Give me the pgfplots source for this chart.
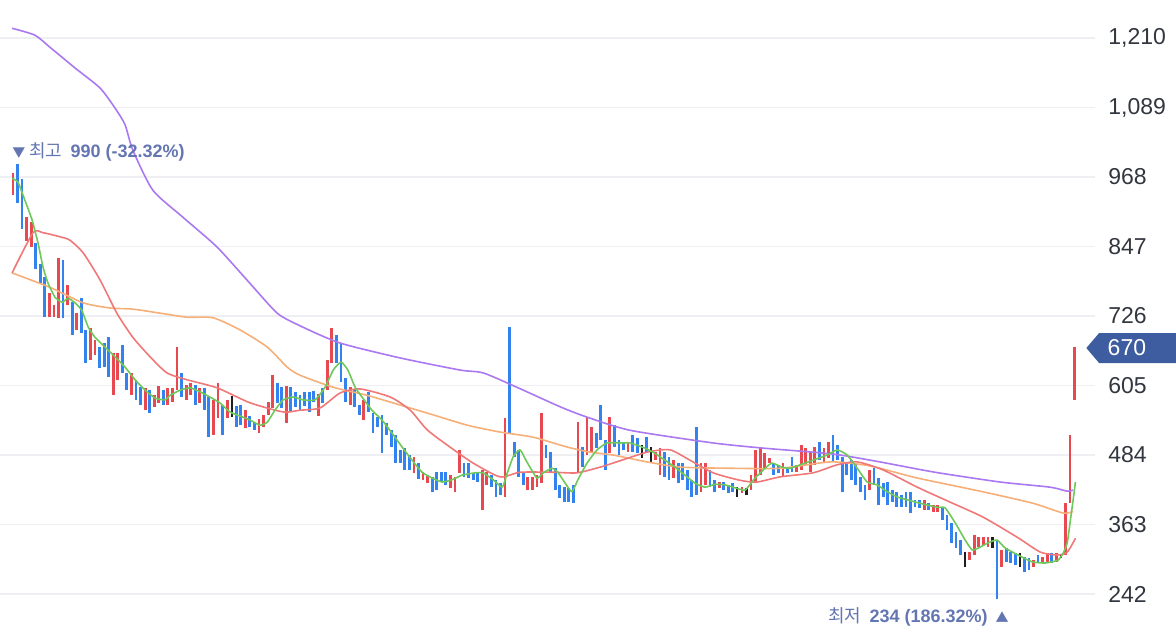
\documentclass[border=0pt]{standalone}
\usepackage{pgfplots}
\pgfplotsset{compat=1.18}
\usepackage{pgfplotstable}
\usepackage{fontspec}
\setmainfont{Liberation Sans}
\newfontfamily\cjk{Noto Sans CJK KR}
\definecolor{cred}{RGB}{232,72,80}
\definecolor{cblue}{RGB}{50,130,240}
\definecolor{cblack}{RGB}{30,30,30}
\definecolor{maA}{RGB}{110,200,90}
\definecolor{maB}{RGB}{240,120,120}
\definecolor{maC}{RGB}{246,175,120}
\definecolor{maD}{RGB}{170,120,240}
\definecolor{anno}{RGB}{100,118,178}
\definecolor{tickc}{RGB}{50,54,62}
\definecolor{tagc}{RGB}{62,92,160}
\definecolor{gridc}{RGB}{238,239,242}

\pgfplotstableread{
n lo hi
1 937 975
4 857 898
5 846 890
9 724 766
10 724 745
11 723 827
13 745 780
15 702 731
18 649 705
19 658 684
23 588 662
24 615 662
27 588 627
30 562 600
32 568 588
33 574 605
35 571 600
36 576 600
37 597 672
39 580 606
40 588 609
42 574 600
45 519 580
46 548 609
48 548 580
52 531 562
55 522 546
56 533 554
57 554 576
58 566 623
61 540 604
68 552 590
70 597 650
71 644 705
75 571 602
78 545 580
89 453 480
91 440 454
92 435 449
97 426 449
98 420 446
99 453 493
104 388 458
105 432 454
109 411 548
114 423 446
115 423 446
116 428 449
117 435 557
125 454 541
127 484 550
128 487 533
132 487 550
136 489 506
142 475 489
143 449 496
146 444 475
152 420 470
153 432 470
156 426 437
161 418 428
163 423 449
164 437 493
165 449 498
166 461 487
167 470 479
170 446 470
173 454 467
174 458 501
175 467 496
176 454 489
177 467 498
179 472 496
180 479 506
189 423 458
201 388 406
203 385 397
204 384 397
211 301 315
212 310 345
213 324 341
214 327 341
215 324 341
218 289 319
225 289 301
227 298 306
228 298 313
230 298 313
232 310 400
233 400 519
234 580 672
}\upcandles

\pgfplotstableread{
n lo hi
2 923 990
3 877 964
6 808 853
7 783 817
8 724 794
12 723 823
14 693 750
16 696 757
17 644 702
20 635 672
21 637 679
22 620 689
25 627 675
26 597 627
28 580 615
29 571 602
31 558 597
34 571 597
38 585 627
41 571 606
43 562 600
44 515 585
47 519 571
50 533 569
51 536 571
53 533 552
54 527 541
59 574 609
60 566 602
62 559 602
63 568 594
64 562 588
65 569 594
66 559 594
67 576 596
69 574 600
72 644 693
73 611 679
74 576 618
76 568 597
77 554 571
79 559 594
80 522 557
81 533 550
82 487 554
83 519 540
84 498 527
85 470 519
86 470 493
87 458 496
88 458 484
90 442 470
93 420 446
94 423 454
95 437 454
96 432 454
100 446 470
101 444 470
102 440 453
103 437 454
106 428 449
107 411 440
108 414 435
110 522 707
111 480 506
112 446 493
113 432 454
118 479 501
119 454 489
120 423 461
121 409 432
122 402 428
123 402 426
124 400 432
126 463 498
129 496 522
130 510 571
131 458 510
133 498 536
134 484 510
135 493 506
137 489 519
138 487 513
140 489 515
144 446 489
145 440 480
147 435 470
148 440 470
149 423 458
150 411 440
151 414 533
154 428 458
155 420 440
157 423 437
158 418 432
159 420 435
168 449 470
169 453 467
171 453 463
172 454 480
178 475 506
181 472 519
182 475 501
183 420 480
184 449 472
185 441 475
186 432 470
187 420 446
188 406 432
190 432 461
191 397 444
192 411 435
193 397 437
194 402 423
195 393 420
196 393 414
197 393 420
198 383 420
199 393 406
200 391 406
202 388 400
205 371 392
206 353 379
207 331 366
208 322 350
209 310 336
217 234 336
219 298 322
220 296 315
221 292 313
223 280 306
224 284 305
226 296 310
229 296 313
}\downcandles

\pgfplotstableread{
n lo hi
49 550 587
139 479 501
141 470 498
160 411 428
162 414 426
210 289 315
216 322 341
222 289 313
231 305 310
}\flatcandles

\begin{document}
\begin{tikzpicture}
\useasboundingbox (0,0) rectangle (588pt,317pt);
\begin{axis}[
  at={(0,0)}, anchor=south west,
  width=547.5pt, height=317pt, scale only axis,
  xmin=-1.85, xmax=238.5, ymin=172.4, ymax=1276.2,
  clip=false,
  axis line style={draw=none},
  major tick length=0pt,
  xtick=\empty,
  ytick={242,363,484,605,726,847,968,1089,1210},
  yticklabels={242,363,484,605,726,847,968,{1,089},{1,210}},
  yticklabel pos=right,
  yticklabel style={anchor=west, inner sep=0pt, xshift=6.5pt,
    font=\fontsize{11.5}{13}\selectfont, text=tickc},
  ymajorgrids,
  grid style={gridc, line width=0.6pt},
]
% candles
\addplot[draw=none, no markers,
  error bars/.cd, y dir=both, y explicit, error mark=none,
  error bar style={line width=1.4pt, draw=cred}]
  table[x=n, y expr={(\thisrow{lo}+\thisrow{hi})/2}, y error expr={(\thisrow{hi}-\thisrow{lo})/2}] {\upcandles};
\addplot[draw=none, no markers,
  error bars/.cd, y dir=both, y explicit, error mark=none,
  error bar style={line width=1.4pt, draw=cblue}]
  table[x=n, y expr={(\thisrow{lo}+\thisrow{hi})/2}, y error expr={(\thisrow{hi}-\thisrow{lo})/2}] {\downcandles};
\addplot[draw=none, no markers,
  error bars/.cd, y dir=both, y explicit, error mark=none,
  error bar style={line width=1.1pt, draw=cblack}]
  table[x=n, y expr={(\thisrow{lo}+\thisrow{hi})/2}, y error expr={(\thisrow{hi}-\thisrow{lo})/2}] {\flatcandles};

% MA120
\addplot[maD, line width=0.8pt, line join=round, smooth, tension=0.4] coordinates {
(0.8,1227) (5.8,1215) (9.1,1194) (14.6,1158) (20.1,1123) (23.4,1088) (25.6,1059)
(27.3,1015) (31.7,945) (38.3,898) (45.8,846) (53.0,783) (59.0,731) (64.0,709)
(72.8,679) (86.0,653) (99.1,632) (104.2,627) (111.6,602) (121.1,568) (127.0,550)
(136.5,527) (154.7,505) (165.7,496) (176.6,489) (182.6,484) (191.3,472) (203.4,454)
(217.7,437) (228.7,428) (232.4,421) (233.7,423)};
% MA60
\addplot[maC, line width=0.8pt, line join=round, smooth, tension=0.4] coordinates {
(0.8,801) (9.1,776) (16.4,749) (22.3,740) (27.3,738) (33.3,731) (39.2,724) (44.9,723)
(50.8,702) (56.8,672) (61.2,637) (64.0,623) (71.3,602) (78.7,588) (86.0,571) (93.2,554)
(100.7,536) (107.9,524) (115.2,515) (122.6,498) (127.7,489) (132.7,484) (140.2,472)
(147.4,463) (158.4,461) (169.4,461) (180.4,472) (187.6,467) (191.3,461) (199.5,444)
(213.9,420) (224.9,400) (231.5,383) (233.7,386)};
% MA20
\addplot[maB, line width=0.8pt, line join=round, smooth, tension=0.4] coordinates {
(0.8,801) (5.4,871) (7.6,871) (11.3,864) (13.5,858) (16.4,836) (20.1,789) (23.8,731)
(27.3,689) (31.1,655) (34.8,627) (39.2,615) (45.8,601) (53.0,575) (60.3,559) (64.0,562)
(68.4,566) (72.8,592) (77.2,599) (83.8,585) (88.2,562) (91.9,528) (96.9,498) (102.0,470)
(107.9,446) (112.3,454) (119.6,454) (124.8,453) (129.9,463) (132.7,470) (140.2,489)
(145.2,493) (149.6,475) (154.7,453) (160.6,440) (164.3,437) (169.4,446) (176.6,453)
(181.9,467) (186.3,472) (192.0,458) (199.5,428) (206.7,402) (213.9,376) (221.4,341)
(226.5,315) (230.2,310) (232.4,315) (234.2,339)};
% MA5
\addplot[maA, line width=0.8pt, line join=round, smooth, tension=0.3] coordinates {
(0.8,966) (2.1,959) (3.6,928) (5.2,893) (6.5,853) (7.6,811) (8.7,783) (10.2,759)
(11.8,750) (13.1,757) (14.6,749) (16.1,736) (17.5,707) (19.0,689) (21.2,672) (23.4,655)
(25.6,637) (27.8,615) (30.0,597) (32.2,583) (34.4,580) (35.5,588) (37.7,597) (39.9,601)
(42.1,594) (44.2,585) (46.4,575) (48.6,559) (50.8,552) (53.0,545) (55.2,536) (56.8,541)
(58.5,562) (60.3,580) (62.5,585) (64.7,580) (67.3,580) (69.5,602) (71.3,632) (73.0,646)
(74.5,632) (76.1,602) (77.6,585) (79.8,562) (82.0,545) (84.2,522) (86.4,498) (88.6,475)
(90.8,454) (93.0,444) (95.2,437) (97.4,441) (99.6,449) (102.4,453) (104.2,453) (106.4,441)
(108.4,428) (109.5,453) (110.8,481) (112.3,493) (113.8,472) (116.0,444) (117.4,453)
(119.3,461) (120.6,454) (122.2,435) (123.7,420) (125.0,441) (127.0,470) (129.2,493)
(131.4,505) (134.3,505) (136.5,505) (139.7,496) (141.9,487) (144.1,475) (146.3,463)
(148.5,449) (150.7,435) (152.9,428) (155.1,433) (157.3,432) (159.5,427) (161.7,423)
(163.9,444) (166.1,461) (167.6,470) (169.8,463) (171.6,461) (173.8,467) (176.6,475)
(179.7,484) (181.9,493) (184.1,484) (186.3,461) (188.5,437) (190.7,432) (192.9,420)
(195.1,411) (197.3,406) (200.1,400) (203.9,393) (205.6,392) (207.8,366) (210.0,336)
(211.5,319) (212.9,322) (215.0,331) (217.0,336) (218.8,322) (221.6,310) (224.7,298)
(227.6,296) (230.4,301) (231.5,313) (232.4,331) (233.1,371) (233.7,406) (234.2,437)};

% annotations
\node[anchor=west, inner sep=0pt, text=anno, font=\fontsize{9}{10}\selectfont]
  at (axis cs:0.78,1011) {{\cjk\fontsize{6.5}{7}\selectfont ▼}\hspace{2pt}{\cjk 최고}\hspace{4pt}\textbf{990 (-32.32\%)}};
\node[anchor=west, inner sep=0pt, text=anno, font=\fontsize{9}{10}\selectfont]
  at (axis cs:179.9,202) {{\cjk 최저}\hspace{4pt}\textbf{234 (186.32\%)}\hspace{4pt}{\cjk\fontsize{6.5}{7}\selectfont ▲}};

% current price tag
\fill[tagc] (axis cs:236.6,670.3) -- (axis cs:239.4,696.4) -- (axis cs:256.5,696.4)
  -- (axis cs:256.5,644.2) -- (axis cs:239.4,644.2) -- cycle;
\node[anchor=west, inner sep=0pt, text=white, font=\fontsize{11.5}{13}\selectfont]
  at (axis cs:241.2,670.3) {670};
\end{axis}
\end{tikzpicture}
\end{document}
